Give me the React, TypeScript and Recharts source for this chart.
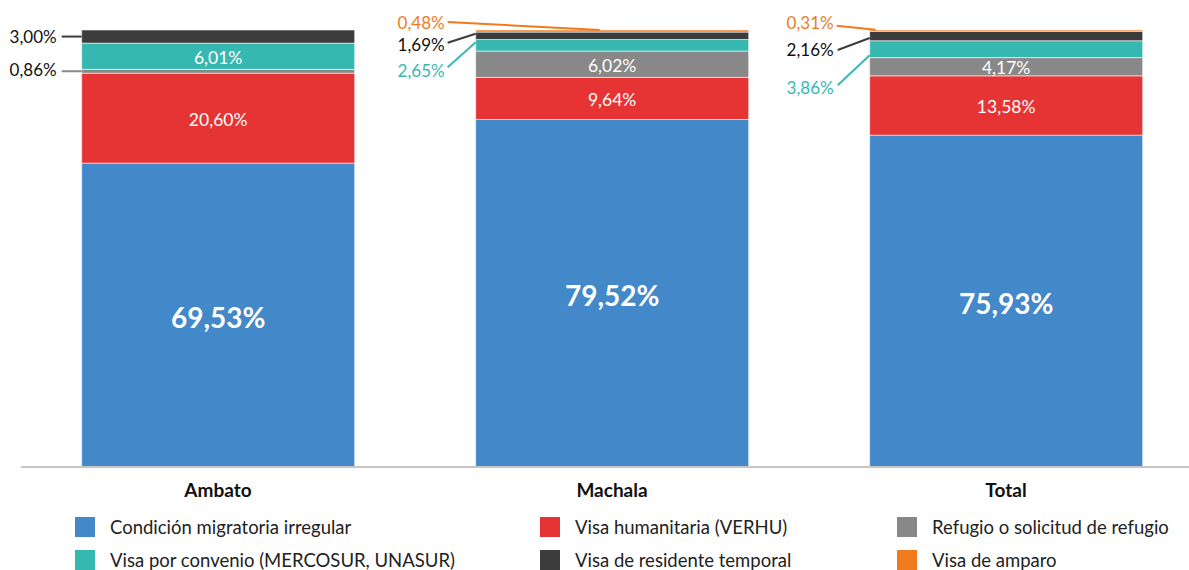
import React from "react";
import { BarChart, Bar, XAxis, YAxis, LabelList } from "recharts";

const categories = ["Ambato", "Machala", "Total"];
const irregular = [69.53, 79.52, 75.93];
const humanitaria = [20.6, 9.64, 13.58];
const refugio = [0.86, 6.02, 4.17];
const convenio = [6.01, 2.65, 3.86];
const temporal = [3.0, 1.69, 2.16];
const amparo = [0, 0.48, 0.31];

const COLORS = {
  irregular: "#4388c8",
  humanitaria: "#e63434",
  refugio: "#888888",
  convenio: "#36b8b1",
  temporal: "#3c3c3c",
  amparo: "#f07a1e",
};

const SERIES = [
  { key: "irregular", name: "Condición migratoria irregular", values: irregular },
  { key: "humanitaria", name: "Visa humanitaria (VERHU)", values: humanitaria },
  { key: "refugio", name: "Refugio o solicitud de refugio", values: refugio },
  { key: "convenio", name: "Visa por convenio (MERCOSUR, UNASUR)", values: convenio },
  { key: "temporal", name: "Visa de residente temporal", values: temporal },
  { key: "amparo", name: "Visa de amparo", values: amparo },
] as const;

// legend order (3 columns x 2 rows)
const LEGEND_ORDER = ["irregular", "humanitaria", "refugio", "convenio", "temporal", "amparo"];

const data = categories.map((c, i) => {
  const row: Record<string, string | number> = { name: c };
  SERIES.forEach((s) => (row[s.key] = s.values[i]));
  return row;
});

// labels drawn outside the bar, with a leader line (offsets relative to bar left / segment centre)
type OutLabel = { tdx: number; tdy: number; x1: number; y1: number; x2: number; y2: number; text: string; line: string };
const OUTSIDE: Record<string, OutLabel> = {
  "temporal-0": { tdx: -25, tdy: 0, x1: -20, y1: 0, x2: 0, y2: 0, text: "#111", line: COLORS.temporal },
  "refugio-0": { tdx: -25, tdy: -2, x1: -20, y1: 0, x2: 0, y2: 0, text: "#111", line: COLORS.refugio },
  "amparo-1": { tdx: -31, tdy: -9, x1: -28, y1: -9, x2: 124, y2: -1, text: COLORS.amparo, line: COLORS.amparo },
  "temporal-1": { tdx: -31, tdy: 9, x1: -28, y1: 7, x2: 0, y2: -2, text: "#111", line: COLORS.temporal },
  "convenio-1": { tdx: -31, tdy: 25, x1: -28, y1: 22, x2: 0, y2: -3, text: COLORS.convenio, line: COLORS.convenio },
  "amparo-2": { tdx: -36, tdy: -8, x1: -33, y1: -5, x2: 6, y2: -1, text: COLORS.amparo, line: COLORS.amparo },
  "temporal-2": { tdx: -36, tdy: 13, x1: -32, y1: 14, x2: 0, y2: 2, text: "#111", line: COLORS.temporal },
  "convenio-2": { tdx: -36, tdy: 38, x1: -32, y1: 36, x2: 0, y2: 6, text: COLORS.convenio, line: COLORS.convenio },
};

const fmt = (v: number) => v.toFixed(2).replace(".", ",") + "%";

function makeLabel(key: string, values: readonly number[]) {
  return (props: any) => {
    const x = Number(props.x);
    const y = Number(props.y);
    const w = Number(props.width);
    const h = Number(props.height);
    const raw = props.value;
    const v = Array.isArray(raw) ? Number(raw[1]) - Number(raw[0]) : Number(raw);
    if (!v) return null;
    const index = values.findIndex((q) => Math.abs(q - v) < 1e-6);
    const cy = y + h / 2;
    const out = OUTSIDE[`${key}-${index}`];
    if (out) {
      return (
        <g>
          <line x1={x + out.x1} y1={cy + out.y1} x2={x + out.x2} y2={cy + out.y2} stroke={out.line} strokeWidth={2} />
          <text x={x + out.tdx} y={cy + out.tdy} textAnchor="end" dominantBaseline="central" fill={out.text} fontSize={17}>
            {fmt(v)}
          </text>
        </g>
      );
    }
    const big = key === "irregular";
    return (
      <text
        x={x + w / 2}
        y={cy + (big ? 2 : 1)}
        textAnchor="middle"
        dominantBaseline="central"
        fill="#fff"
        fontSize={big ? 28 : 17.5}
        fontWeight={big ? 700 : 400}
      >
        {fmt(v)}
      </text>
    );
  };
}

function CatTick(props: any) {
  const { x, y, payload } = props;
  return (
    <text x={x} y={y + 14} textAnchor="middle" dominantBaseline="central" fill="#111" fontSize={19} fontWeight={700}>
      {payload.value}
    </text>
  );
}

function Leyenda() {
  const cols = [75, 540, 897];
  const rows = [527, 560];
  return (
    <div style={{ position: "absolute", left: 0, top: 0, width: 1189, height: 570, pointerEvents: "none" }}>
      {LEGEND_ORDER.map((k, i) => {
        const s = SERIES.find((q) => q.key === k)!;
        const left = cols[i % 3];
        const top = rows[Math.floor(i / 3)];
        return (
          <div
            key={k}
            style={{ position: "absolute", left, top: top - 11, display: "flex", alignItems: "center", height: 22 }}
          >
            <span style={{ width: 20, height: 20, background: COLORS[k as keyof typeof COLORS], display: "inline-block" }} />
            <span style={{ marginLeft: 15, fontSize: 18.5, color: "#222", whiteSpace: "nowrap" }}>{s.name}</span>
          </div>
        );
      })}
    </div>
  );
}

export default function App() {
  return (
    <div
      style={{
        position: "absolute",
        left: 0,
        top: 0,
        width: 1189,
        height: 570,
        overflow: "hidden",
        background: "#fff",
        fontFamily: "Lato, 'Open Sans', sans-serif",
      }}
    >
      <BarChart
        width={1210}
        height={510}
        data={data}
        margin={{ top: 30, right: 7, left: 21, bottom: 13 }}
        barCategoryGap="15.4%"
        style={{ fontFamily: "Lato, 'Open Sans', sans-serif" }}
      >
        <XAxis
          dataKey="name"
          height={30}
          axisLine={{ stroke: "#c6c6c6", strokeWidth: 2 }}
          tickLine={false}
          tick={<CatTick />}
          interval={0}
        />
        <YAxis hide domain={[0, 100]} allowDataOverflow />
        {SERIES.map((s) => (
          <Bar
            key={s.key}
            dataKey={s.key}
            name={s.name}
            stackId="a"
            fill={COLORS[s.key]}
            stroke="rgba(255,255,255,0.55)"
            strokeWidth={1}
            isAnimationActive={false}
          >
            <LabelList dataKey={s.key} content={makeLabel(s.key, s.values)} />
          </Bar>
        ))}
      </BarChart>
      <Leyenda />
    </div>
  );
}
